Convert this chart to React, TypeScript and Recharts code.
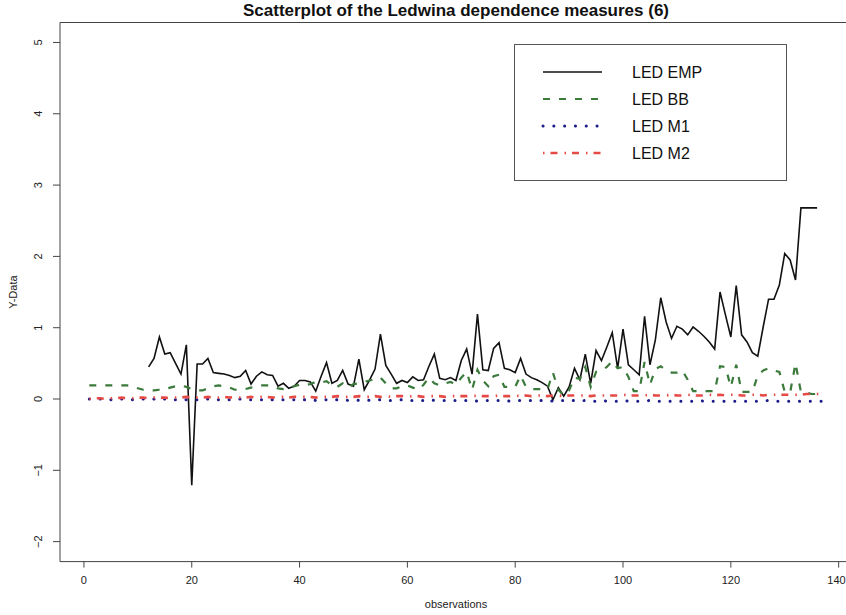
import { Legend, Line, LineChart, ReferenceArea, XAxis, YAxis } from "recharts";

// observations 1..137, LED EMP only starts at 12
const EMP_START = 12;
const N_OBS = 137;

const ledEmp = [
  0.45, 0.57, 0.87, 0.63, 0.65, 0.5, 0.35, 0.76, -1.21, 0.49,
  0.49, 0.57, 0.37, 0.36, 0.35, 0.33, 0.3, 0.32, 0.4, 0.21,
  0.32, 0.38, 0.34, 0.33, 0.18, 0.22, 0.15, 0.18, 0.26, 0.26,
  0.24, 0.11, 0.32, 0.51, 0.22, 0.26, 0.4, 0.21, 0.18, 0.56,
  0.13, 0.27, 0.42, 0.91, 0.47, 0.35, 0.22, 0.26, 0.23, 0.31,
  0.26, 0.27, 0.46, 0.63, 0.29, 0.27, 0.3, 0.26, 0.54, 0.7,
  0.35, 1.19, 0.41, 0.4, 0.71, 0.79, 0.43, 0.41, 0.37, 0.57,
  0.35, 0.3, 0.27, 0.23, 0.18, -0.01, 0.16, 0.04, 0.17, 0.43,
  0.27, 0.63, 0.22, 0.68, 0.54, 0.73, 0.93, 0.43, 0.98, 0.48,
  0.41, 0.34, 1.16, 0.48, 0.83, 1.42, 1.08, 0.85, 1.02, 0.98,
  0.9, 1.01, 0.95, 0.88, 0.8, 0.7, 1.5, 1.18, 0.87, 1.59,
  0.9, 0.8, 0.65, 0.6, 1.01, 1.4, 1.4, 1.6, 2.04, 1.95,
  1.67, 2.68, 2.68, 2.68, 2.68,
];

const ledBB = [
  0.19, 0.19, 0.19, 0.19, 0.19, 0.19, 0.19, 0.19, 0.18, 0.15,
  0.13, 0.12, 0.12, 0.13, 0.13, 0.16, 0.18, 0.19, 0.17, 0.14,
  0.12, 0.12, 0.15, 0.18, 0.19, 0.18, 0.16, 0.13, 0.13, 0.14,
  0.16, 0.18, 0.19, 0.19, 0.18, 0.15, 0.14, 0.15, 0.18, 0.2,
  0.19, 0.21, 0.24, 0.23, 0.25, 0.19, 0.17, 0.22, 0.16, 0.21,
  0.22, 0.24, 0.26, 0.28, 0.3, 0.22, 0.15, 0.15, 0.18, 0.19,
  0.16, 0.13, 0.2, 0.3, 0.22, 0.19, 0.22, 0.24, 0.2, 0.3,
  0.38, 0.13, 0.41, 0.26, 0.18, 0.32, 0.34, 0.17, 0.17, 0.17,
  0.33, 0.17, 0.14, 0.14, 0.14, 0.14, 0.37, 0.13, 0.05, 0.12,
  0.3, 0.28, 0.45, 0.17, 0.38, 0.4, 0.45, 0.53, 0.43, 0.45,
  0.31, 0.11, 0.11, 0.52, 0.2, 0.42, 0.46, 0.4, 0.37, 0.37,
  0.4, 0.27, 0.11, 0.11, 0.11, 0.11, 0.11, 0.46, 0.45, 0.17,
  0.48, 0.1, 0.1, 0.1, 0.33, 0.4, 0.43, 0.4, 0.38, 0.1,
  0.09, 0.5, 0.1, 0.09, 0.07, 0.07, 0.07,
];

const ledM1 = [
  0, 0, 0, 0, -0.01, 0, 0, 0, -0.01, 0,
  0, -0.01, 0, -0.01, 0, -0.01, -0.01, 0, -0.01, -0.01,
  -0.01, -0.01, 0, -0.01, -0.01, -0.01, -0.01, -0.01, 0, -0.01,
  -0.01, -0.01, -0.01, -0.02, -0.01, -0.01, -0.01, -0.01, -0.01, -0.02,
  -0.01, -0.01, -0.02, -0.01, -0.01, -0.02, -0.01, -0.01, -0.02, -0.01,
  -0.02, -0.01, -0.02, -0.02, -0.01, -0.02, -0.02, -0.02, -0.01, -0.02,
  -0.02, -0.02, -0.02, -0.01, -0.02, -0.02, -0.02, -0.02, -0.02, -0.02,
  -0.02, -0.02, -0.03, -0.02, -0.02, -0.02, -0.02, -0.02, -0.03, -0.02,
  -0.02, -0.02, -0.02, -0.03, -0.02, -0.02, -0.03, -0.02, -0.02, -0.03,
  -0.02, -0.03, -0.02, -0.03, -0.03, -0.02, -0.03, -0.03, -0.03, -0.02,
  -0.03, -0.03, -0.03, -0.03, -0.02, -0.03, -0.03, -0.03, -0.03, -0.03,
  -0.03, -0.03, -0.03, -0.02, -0.03, -0.03, -0.03, -0.03, -0.03, -0.03,
  -0.03, -0.03, -0.03, -0.03, -0.03, -0.03, -0.02, -0.03, -0.03, -0.03,
  -0.03, -0.03, -0.03, -0.03, -0.03, -0.03, -0.03,
];

const ledM2 = [
  0, 0.01, 0.01, 0, 0.01, 0.01, 0.02, 0.01, 0.01, 0.02,
  0.02, 0.01, 0.02, 0.02, 0.02, 0.01, 0.02, 0.02, 0.03, 0.02,
  0.02, 0.02, 0.03, 0.02, 0.02, 0.03, 0.02, 0.03, 0.02, 0.02,
  0.03, 0.02, 0.03, 0.03, 0.02, 0.03, 0.03, 0.02, 0.03, 0.03,
  0.03, 0.03, 0.02, 0.03, 0.03, 0.03, 0.04, 0.03, 0.03, 0.03,
  0.04, 0.03, 0.03, 0.04, 0.03, 0.04, 0.03, 0.04, 0.04, 0.03,
  0.04, 0.04, 0.03, 0.04, 0.04, 0.04, 0.03, 0.04, 0.04, 0.04,
  0.04, 0.04, 0.05, 0.04, 0.04, 0.04, 0.05, 0.04, 0.04, 0.05,
  0.04, 0.05, 0.04, 0.05, 0.05, 0.04, 0.05, 0.05, 0.04, 0.05,
  0.05, 0.05, 0.05, 0.04, 0.05, 0.05, 0.05, 0.05, 0.05, 0.06,
  0.05, 0.05, 0.05, 0.05, 0.06, 0.05, 0.05, 0.05, 0.06, 0.05,
  0.05, 0.06, 0.05, 0.05, 0.05, 0.06, 0.05, 0.06, 0.05, 0.06,
  0.06, 0.05, 0.05, 0.06, 0.06, 0.05, 0.06, 0.06, 0.06, 0.06,
  0.06, 0.06, 0.06, 0.07, 0.07, 0.07, 0.07,
];

const xTicks = [0, 20, 40, 60, 80, 100, 120, 140];
const yTicks = [-2, -1, 0, 1, 2, 3, 4, 5];

// R-style limits: data range padded by 4%
const X_DOMAIN: [number, number] = [-4.44, 142.44];
const Y_DOMAIN: [number, number] = [-2.28, 5.28];

const FONT = '"Liberation Sans", Arial, Helvetica, sans-serif';
const AXIS_COLOR = "#444";

const series = [
  { key: "emp", name: "LED EMP", color: "#111", width: 1.6, dash: undefined, cap: "butt" },
  { key: "bb", name: "LED BB", color: "#3a7a3a", width: 2.2, dash: "7 9", cap: "butt" },
  { key: "m1", name: "LED M1", color: "#1c1c8a", width: 3, dash: "0.1 10.7", cap: "round" },
  { key: "m2", name: "LED M2", color: "#e64a45", width: 2.6, dash: "1.5 6 7 7", cap: "butt" },
] as const;

const data = Array.from({ length: N_OBS }, (_, i) => {
  const obs = i + 1;
  const e = obs >= EMP_START ? ledEmp[obs - EMP_START] : undefined;
  return {
    obs,
    emp: e === undefined ? null : e,
    bb: ledBB[i],
    m1: ledM1[i],
    m2: ledM2[i],
  };
});

const fmtTick = (v: number) => (v < 0 ? `\u2212${Math.abs(v)}` : `${v}`);

function YTick(props: any) {
  const { x, y, payload } = props;
  return (
    <text
      x={x}
      y={y}
      transform={`rotate(-90 ${x} ${y})`}
      textAnchor="middle"
      fontSize={11}
      fontFamily={FONT}
      fill="#222"
    >
      {fmtTick(payload.value)}
    </text>
  );
}

// last label sits on the page edge, so anchor it at its end to keep it readable
function XTick(props: any) {
  const { x, y, payload } = props;
  const last = payload.value === xTicks[xTicks.length - 1];
  return (
    <text
      x={last ? x + 7 : x}
      y={y + 10}
      textAnchor={last ? "end" : "middle"}
      fontSize={11}
      fontFamily={FONT}
      fill="#222"
    >
      {fmtTick(payload.value)}
    </text>
  );
}

function LegendBox() {
  return (
    <div
      style={{
        width: 273,
        height: 137,
        border: "1px solid #555",
        boxSizing: "border-box",
        background: "#fff",
      }}
    >
      <svg width={271} height={135}>
        {series.map((s, i) => {
          const y = 27 + i * 27;
          return (
            <g key={s.key}>
              <line
                x1={28}
                x2={87}
                y1={y}
                y2={y}
                stroke={s.color}
                strokeWidth={s.width}
                strokeDasharray={s.dash}
                strokeLinecap={s.cap}
              />
              <text x={117} y={y + 6} fontSize={16} fontFamily={FONT} fill="#111">
                {s.name}
              </text>
            </g>
          );
        })}
      </svg>
    </div>
  );
}

export default function App() {
  return (
    <div
      style={{
        position: "absolute",
        left: 0,
        top: 0,
        width: 846,
        height: 615,
        overflow: "hidden",
        background: "#fff",
        fontFamily: FONT,
      }}
    >
      <div
        style={{
          position: "absolute",
          left: 60,
          top: 1,
          width: 792,
          height: 20,
          lineHeight: "20px",
          textAlign: "center",
          fontWeight: "bold",
          fontSize: 17,
          color: "#111",
        }}
      >
        Scatterplot of the Ledwina dependence measures (6)
      </div>
      <div
        style={{
          position: "absolute",
          left: -37,
          top: 285,
          width: 100,
          height: 14,
          lineHeight: "14px",
          textAlign: "center",
          fontSize: 11,
          color: "#222",
          transform: "rotate(-90deg)",
        }}
      >
        Y-Data
      </div>
      <div
        style={{
          position: "absolute",
          left: 356,
          top: 597,
          width: 200,
          height: 14,
          lineHeight: "14px",
          textAlign: "center",
          fontSize: 11,
          color: "#222",
        }}
      >
        observations
      </div>
      <LineChart
        width={880}
        height={615}
        data={data}
        margin={{ top: 22.5, right: 28.2, bottom: 23.4, left: 0 }}
        style={{ position: "absolute", left: 0, top: 0 }}
      >
        <XAxis
          type="number"
          dataKey="obs"
          domain={X_DOMAIN}
          ticks={xTicks}
          allowDataOverflow
          axisLine={false}
          tickLine={{ stroke: AXIS_COLOR }}
          tickSize={6}
          tickMargin={6}
          height={30}
          tick={<XTick />}
        />
        <YAxis
          type="number"
          domain={Y_DOMAIN}
          ticks={yTicks}
          allowDataOverflow
          axisLine={false}
          tickLine={{ stroke: AXIS_COLOR }}
          tickSize={7}
          tickMargin={11}
          width={60}
          tick={<YTick />}
        />
        <ReferenceArea
          x1={X_DOMAIN[0]}
          x2={X_DOMAIN[1]}
          y1={Y_DOMAIN[0]}
          y2={Y_DOMAIN[1]}
          fill="none"
          stroke={AXIS_COLOR}
          strokeWidth={1}
          ifOverflow="visible"
        />
        <Legend
          verticalAlign="middle"
          layout="horizontal"
          content={() => <LegendBox />}
          wrapperStyle={{ left: 514, top: 44, width: 273, height: 137 }}
        />
        {series.map((s) => (
          <Line
            key={s.key}
            type="linear"
            dataKey={s.key}
            name={s.name}
            stroke={s.color}
            strokeWidth={s.width}
            strokeDasharray={s.dash}
            strokeLinecap={s.cap}
            dot={false}
            activeDot={false}
            isAnimationActive={false}
          />
        ))}
      </LineChart>
    </div>
  );
}
